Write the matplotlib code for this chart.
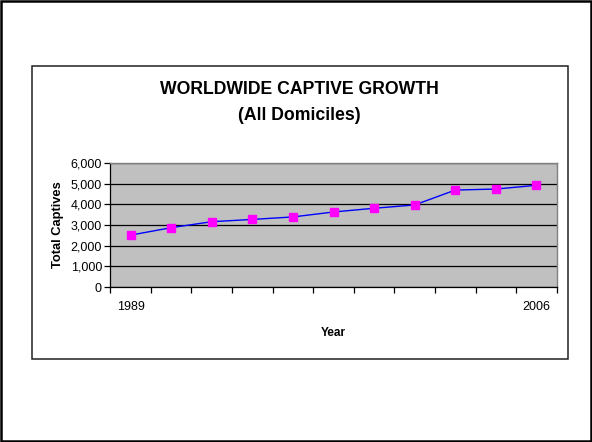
import matplotlib
matplotlib.use("Agg")
import matplotlib.pyplot as plt
from matplotlib.patches import Rectangle
from matplotlib.ticker import FuncFormatter

categories = list(range(11))
tick_labels = ["1989", "", "", "", "", "", "", "", "", "", "2006"]
captives = [2510, 2870, 3160, 3270, 3390, 3630, 3810, 3970, 4690, 4740, 4920]

plt.rcParams['font.family'] = ['Liberation Sans', 'DejaVu Sans']

W, H = 592, 442
fig = plt.figure(figsize=(W / 100, H / 100), dpi=100)

# outer border
fig.patches.append(Rectangle((0.002, 0.003), 0.996, 0.994, transform=fig.transFigure,
                             fill=False, edgecolor='black', linewidth=1.8))
# chart area border
x0, y0, x1, y1 = 32.3, 65.7, 567.7, 359.3
fig.patches.append(Rectangle((x0 / W, 1 - y1 / H), (x1 - x0) / W, (y1 - y0) / H,
                             transform=fig.transFigure, fill=False,
                             edgecolor='#202020', linewidth=1.1))

pl, pr, pt, pb = 110.3, 556.7, 163.0, 287.0
ax = fig.add_axes([pl / W, 1 - pb / H, (pr - pl) / W, (pb - pt) / H])
ax.set_facecolor('#C0C0C0')

ax.plot(categories, captives, color='#0000FF', linewidth=1.0, marker='s',
        markersize=5.5, markerfacecolor='#FF00FF', markeredgecolor='#FF00FF', zorder=3)

ax.set_xlim(-0.5, 10.5)
ax.set_ylim(0, 6000)
ax.set_yticks(range(0, 6001, 1000))
ax.yaxis.set_major_formatter(FuncFormatter(lambda v, p: f"{int(v):,}"))
ax.grid(axis='y', color='black', linewidth=0.9)
ax.set_axisbelow(True)

ax.set_xticks([i - 0.5 for i in range(12)])
ax.set_xticklabels([])
ax.set_xticks(categories, minor=True)
ax.set_xticklabels(tick_labels, minor=True)
ax.tick_params(axis='x', which='major', direction='out', length=4, width=0.9, color='black')
ax.tick_params(axis='x', which='minor', length=0, pad=10, labelsize=9)
ax.tick_params(axis='y', direction='out', length=4, width=0.9, labelsize=9, pad=2)

for s in ['top', 'right']:
    ax.spines[s].set_color('#808080')
    ax.spines[s].set_linewidth(1.0)
for s in ['left', 'bottom']:
    ax.spines[s].set_color('black')
    ax.spines[s].set_linewidth(0.9)

ax.set_xlabel("Year", fontsize=8.5, fontweight='bold', labelpad=10)
ax.set_ylabel("Total Captives", fontsize=9.3, fontweight='bold')
ax.yaxis.set_label_coords(-0.104, 0.5)

fig.text(299 / W, 1 - 89.5 / H, "WORLDWIDE CAPTIVE GROWTH", ha='center', va='center',
         fontsize=12.7, fontweight='bold')
fig.text(299 / W, 1 - 116 / H, "(All Domiciles)", ha='center', va='center',
         fontsize=12.7, fontweight='bold')

fig.savefig("out.png", dpi=100)
